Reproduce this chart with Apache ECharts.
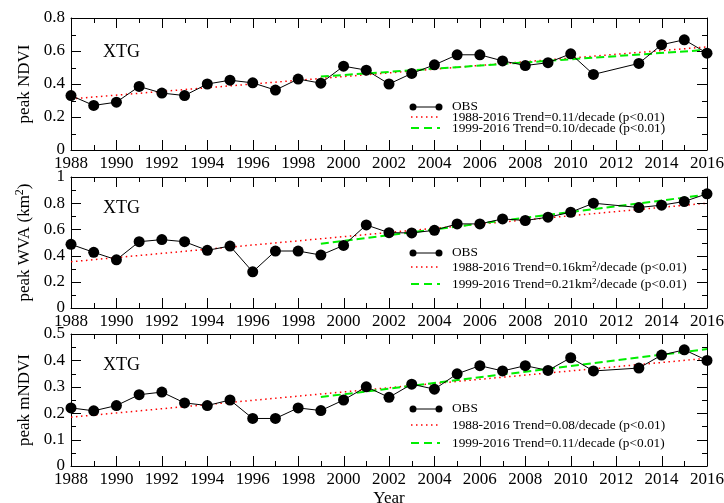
<!DOCTYPE html>
<html><head><meta charset="utf-8">
<script src="https://cdn.jsdelivr.net/npm/echarts@6/dist/echarts.min.js"></script>
<style>html,body{margin:0;padding:0;background:#fff}#c{width:724px;height:503px}</style>
</head><body><div id="c"></div>
<script>
// ---- data (2012 has no observation) ----
const years = [1988,1989,1990,1991,1992,1993,1994,1995,1996,1997,1998,1999,2000,2001,2002,2003,2004,2005,2006,2007,2008,2009,2010,2011,2013,2014,2015,2016];
const ndvi  = [0.33,0.27,0.29,0.385,0.345,0.33,0.40,0.423,0.407,0.363,0.43,0.405,0.508,0.484,0.40,0.464,0.516,0.577,0.577,0.54,0.512,0.529,0.583,0.458,0.525,0.638,0.668,0.587];
const wva   = [0.486,0.425,0.368,0.506,0.522,0.506,0.44,0.473,0.276,0.435,0.435,0.404,0.478,0.634,0.575,0.573,0.593,0.642,0.642,0.68,0.668,0.693,0.731,0.80,0.767,0.785,0.813,0.872];
const mndvi = [0.22,0.209,0.229,0.27,0.28,0.239,0.229,0.25,0.18,0.18,0.22,0.21,0.25,0.30,0.26,0.31,0.291,0.349,0.38,0.36,0.38,0.362,0.41,0.36,0.371,0.42,0.44,0.40];
const trendYears88 = [1988, 2016];
const trendYears99 = [1999, 2016];
const ndviTrend88  = [0.31, 0.625];
const ndviTrend99  = [0.445, 0.607];
const wvaTrend88   = [0.353, 0.80];
const wvaTrend99   = [0.49, 0.865];
const mndviTrend88 = [0.185, 0.408];
const mndviTrend99 = [0.261, 0.443];
// tick positions (major ticks at every other entry)
const xTickYears = [1988,1989,1990,1991,1992,1993,1994,1995,1996,1997,1998,1999,2000,2001,2002,2003,2004,2005,2006,2007,2008,2009,2010,2011,2012,2013,2014,2015,2016];
const ndviTicks  = [0,0.1,0.2,0.3,0.4,0.5,0.6,0.7,0.8];
const wvaTicks   = [0,0.1,0.2,0.3,0.4,0.5,0.6,0.7,0.8,0.9,1];
const mndviTicks = [0,0.05,0.1,0.15,0.2,0.25,0.3,0.35,0.4,0.45,0.5];
const yMax      = [0.8, 1, 0.5];
const yInterval = [0.2, 0.2, 0.1];
const yNames    = ['peak NDVI', 'peak WVA (km{sup|2})', 'peak mNDVI'];
const siteLabel = 'XTG';
const legendObs = 'OBS';
const legend88  = ['1988-2016 Trend=0.11/decade (p<0.01)', '1988-2016 Trend=0.16km{sup|2}/decade (p<0.01)', '1988-2016 Trend=0.08/decade (p<0.01)'];
const legend99  = ['1999-2016 Trend=0.10/decade (p<0.01)', '1999-2016 Trend=0.21km{sup|2}/decade (p<0.01)', '1999-2016 Trend=0.11/decade (p<0.01)'];
const xTitle = 'Year';

// ---- layout ----
const FONT = '"Liberation Serif", "Times New Roman", serif';
const grids = [{top:18,height:132},{top:177,height:131},{top:334,height:132}];
const legendRows = [[107,117,128],[253,267,284],[409,425,443]];
const xtgY = [52,208,365];
const obsSeries = [ndvi, wva, mndvi];
const yTickSets = [ndviTicks, wvaTicks, mndviTicks];
const t88 = [ndviTrend88, wvaTrend88, mndviTrend88];
const t99 = [ndviTrend99, wvaTrend99, mndviTrend99];
const black = '#000';
const LFONT = '13.3px ' + FONT;
const MAJOR = 10, MINOR = 5;

function supRich(size, pad){ return {sup:{fontSize:size, verticalAlign:'top', padding:[0,0,pad,0], fontFamily:FONT, color:black}}; }
function axisLine(){ return {show:true, onZero:false, lineStyle:{color:black, width:1}}; }
function xAxisCfg(i, pos){
  const a = {type:'value', gridIndex:i, min:1988, max:2016, interval:2, position:pos,
    axisLine:axisLine(), axisTick:{show:false}, minorTick:{show:false},
    splitLine:{show:false}, minorSplitLine:{show:false}};
  if (pos === 'bottom') {
    a.axisLabel = {show:true, fontSize:17, fontFamily:FONT, color:black, margin:5, showMinLabel:true, showMaxLabel:true, formatter:v=>String(v)};
    if (i === 2) { a.name = xTitle; a.nameLocation = 'middle'; a.nameGap = 24; a.nameTextStyle = {fontSize:17, fontFamily:FONT, color:black}; }
  } else a.axisLabel = {show:false};
  return a;
}
function yAxisCfg(i, pos){
  const a = {type:'value', gridIndex:i, min:0, max:yMax[i], interval:yInterval[i], position:pos,
    axisLine:axisLine(), axisTick:{show:false}, minorTick:{show:false},
    splitLine:{show:false}, minorSplitLine:{show:false}};
  if (pos === 'left') {
    a.axisLabel = {show:true, fontSize:17, fontFamily:FONT, color:black, margin:6, showMinLabel:true, showMaxLabel:true, formatter:v=>String(+v.toFixed(2))};
    a.name = yNames[i]; a.nameLocation = 'middle'; a.nameGap = 25; a.nameRotate = 90;
    a.nameTextStyle = {fontSize:17, fontFamily:FONT, color:black, rich:supRich(12, 9)};
  } else a.axisLabel = {show:false};
  return a;
}

const option = {animation:false, backgroundColor:'#fff', grid:[], xAxis:[], yAxis:[], series:[], graphic:[]};
const obsIndex = [];

grids.forEach((g,i)=>{
  option.grid.push({left:71, right:17, top:g.top, height:g.height, containLabel:false, outerBoundsMode:'none'});
  option.xAxis.push(xAxisCfg(i, 'bottom'));
  option.xAxis.push(xAxisCfg(i, 'top'));
  option.yAxis.push(yAxisCfg(i, 'left'));
  option.yAxis.push(yAxisCfg(i, 'right'));
  const xi = 2*i, yi = 2*i;

  option.series.push({
    type:'line', name:legend88[i], xAxisIndex:xi, yAxisIndex:yi, symbol:'none', clip:false, z:2,
    data: trendYears88.map((y,k)=>[y, t88[i][k]]),
    lineStyle:{color:'#ff0000', width:1.5, type:[1.5,3.5]}
  });
  option.series.push({
    type:'line', name:legend99[i], xAxisIndex:xi, yAxisIndex:yi, symbol:'none', clip:false, z:2,
    data: trendYears99.map((y,k)=>[y, t99[i][k]]),
    lineStyle:{color:'#00ee00', width:2, type:[8,4]}
  });
  obsIndex.push(option.series.length);
  option.series.push({
    type:'line', name:legendObs, xAxisIndex:xi, yAxisIndex:yi, symbol:'circle', symbolSize:11, clip:false, z:3,
    data: years.map((y,k)=>[y, obsSeries[i][k]]),
    lineStyle:{color:black, width:1}, itemStyle:{color:black}
  });

  // legend drawn as graphic
  const r = legendRows[i];
  option.graphic.push(
    {type:'line', shape:{x1:413,y1:r[0],x2:439,y2:r[0]}, style:{stroke:black, lineWidth:1}},
    {type:'circle', shape:{cx:413,cy:r[0],r:3.5}, style:{fill:black}},
    {type:'circle', shape:{cx:439,cy:r[0],r:3.5}, style:{fill:black}},
    {type:'line', shape:{x1:411,y1:r[1],x2:440,y2:r[1]}, style:{stroke:'#ff0000', lineWidth:1.5, lineDash:[1.5,3.5]}},
    {type:'line', shape:{x1:411,y1:r[2],x2:440,y2:r[2]}, style:{stroke:'#00ee00', lineWidth:2, lineDash:[8,5]}},
    {type:'text', x:452, y:r[0], style:{text:legendObs, font:LFONT, fill:black, verticalAlign:'middle'}},
    {type:'text', x:452, y:r[1]+1, style:{text:legend88[i], font:LFONT, fill:black, verticalAlign:'middle', rich:supRich(9, 7)}},
    {type:'text', x:452, y:r[2]+1, style:{text:legend99[i], font:LFONT, fill:black, verticalAlign:'middle', rich:supRich(9, 7)}},
    {type:'text', x:103, y:xtgY[i], style:{text:siteLabel, font:'18px '+FONT, fill:black, verticalAlign:'middle'}}
  );
});

const chart = echarts.init(document.getElementById('c'), null, {renderer:'canvas'});
chart.setOption(option);

// inward tick marks on all four sides, positioned through each panel's axis scales
const tickEls = [];
function tick(x1,y1,x2,y2){ tickEls.push({type:'line', z:50, silent:true, shape:{x1,y1,x2,y2}, style:{stroke:black, lineWidth:1}}); }
grids.forEach((g,i)=>{
  const finder = {seriesIndex: obsIndex[i]};
  const ym = yMax[i];
  xTickYears.forEach((yr,k)=>{
    const len = (k % 2 === 0) ? MAJOR : MINOR;
    const pb = chart.convertToPixel(finder, [yr, 0]);
    const pt = chart.convertToPixel(finder, [yr, ym]);
    const x = Math.round(pb[0]) + 0.5;
    tick(x, pb[1], x, pb[1] - len);
    tick(x, pt[1], x, pt[1] + len);
  });
  yTickSets[i].forEach((v,k)=>{
    const len = (k % 2 === 0) ? MAJOR : MINOR;
    const pl = chart.convertToPixel(finder, [1988, v]);
    const pr = chart.convertToPixel(finder, [2016, v]);
    const y = Math.round(pl[1]) + 0.5;
    tick(pl[0], y, pl[0] + len, y);
    tick(pr[0], y, pr[0] - len, y);
  });
});
chart.setOption({graphic: option.graphic.concat(tickEls)});
</script>
</body></html>
